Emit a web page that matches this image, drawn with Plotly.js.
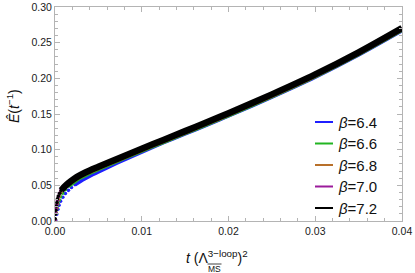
<!DOCTYPE html>
<html>
<head>
<meta charset="utf-8">
<script src="https://cdn.plot.ly/plotly-3.0.1.min.js"></script>
<style>html,body{margin:0;padding:0;background:#fff;}#chart{width:415px;height:273px;}</style>
</head>
<body>
<div id="chart"></div>
<script>
// ---- data ----
const betaLabels = ["6.4", "6.6", "6.8", "7.0", "7.2"];
const seriesColors = ["#1f1fff", "#22b522", "#b8702a", "#9b1b9b", "#000000"];

// early (sparse, small-t) points, drawn as dots
const tEarly64 = [0.00008, 0.0002, 0.00033, 0.00046, 0.00064, 0.0009, 0.0012, 0.00155, 0.0019, 0.0023];
const EEarly64 = [0.001, 0.0095, 0.0165, 0.0222, 0.0278, 0.0333, 0.0385, 0.043, 0.047, 0.051];
const tEarly66 = [0.00005, 0.00015, 0.00025, 0.00035, 0.00048, 0.00065, 0.00088, 0.0012, 0.0016];
const EEarly66 = [0.002, 0.011, 0.018, 0.024, 0.029, 0.034, 0.039, 0.044, 0.049];
const tEarly68 = [0.00004, 0.00012, 0.0002, 0.00028, 0.00038, 0.0005, 0.00066, 0.00088, 0.0012];
const EEarly68 = [0.002, 0.011, 0.018, 0.024, 0.030, 0.035, 0.040, 0.044, 0.049];
const tEarly70 = [0.00003, 0.0001, 0.00016, 0.00022, 0.0003, 0.0004, 0.00052, 0.00068, 0.0009];
const EEarly70 = [0.002, 0.011, 0.017, 0.023, 0.029, 0.034, 0.039, 0.043, 0.047];
const tEarly72 = [0.00001, 0.00003, 0.0001, 0.00016, 0.00022, 0.00028, 0.00038, 0.00055, 0.00072];
const EEarly72 = [0.003, 0.0095, 0.015, 0.021, 0.026, 0.031, 0.035, 0.039, 0.043];

// dense part (continuous band)
const t64 = [0.0023, 0.003, 0.004, 0.005, 0.0075, 0.01, 0.0125, 0.015, 0.0175, 0.02, 0.025, 0.03, 0.035, 0.04];
const E64 = [0.051, 0.0565, 0.0630, 0.0690, 0.0835, 0.0970, 0.1100, 0.1223, 0.1348, 0.1475, 0.1740, 0.2020, 0.2330, 0.2670];
const t66 = [0.0016, 0.0025, 0.0035, 0.005, 0.0075, 0.01, 0.0125, 0.015, 0.0175, 0.02, 0.025, 0.03, 0.035, 0.04];
const E66 = [0.049, 0.0575, 0.0640, 0.0725, 0.0858, 0.0983, 0.1107, 0.1230, 0.1354, 0.1481, 0.1747, 0.2027, 0.2337, 0.2677];
const t68 = [0.0012, 0.0018, 0.0025, 0.0035, 0.005, 0.0075, 0.01, 0.0125, 0.015, 0.0175, 0.02, 0.025, 0.03, 0.035, 0.04];
const E68 = [0.049, 0.0535, 0.0595, 0.0660, 0.0740, 0.0868, 0.0993, 0.1117, 0.1240, 0.1364, 0.1490, 0.1755, 0.2035, 0.2345, 0.2685];
const t70 = [0.0009, 0.0013, 0.0018, 0.0025, 0.0035, 0.005, 0.0075, 0.01, 0.0125, 0.015, 0.0175, 0.02, 0.025, 0.03, 0.035, 0.04];
const E70 = [0.047, 0.0498, 0.0545, 0.0605, 0.0670, 0.0750, 0.0878, 0.1003, 0.1127, 0.1250, 0.1374, 0.1500, 0.1765, 0.2045, 0.2355, 0.2695];
const t72 = [0.00072, 0.001, 0.0013, 0.0018, 0.0025, 0.0035, 0.005, 0.0075, 0.01, 0.0125, 0.015, 0.0175, 0.02, 0.025, 0.03, 0.035, 0.04];
const E72 = [0.043, 0.047, 0.0505, 0.0555, 0.0615, 0.068, 0.076, 0.0888, 0.1013, 0.1137, 0.1260, 0.1384, 0.1510, 0.1775, 0.2055, 0.2365, 0.2705];

const xTickVals = [0, 0.01, 0.02, 0.03, 0.04];
const xTickText = ["0.00", "0.01", "0.02", "0.03", "0.04"];
const yTickVals = [0, 0.05, 0.10, 0.15, 0.20, 0.25, 0.30];
const yTickText = ["0.00", "0.05", "0.10", "0.15", "0.20", "0.25", "0.30"];

// ---- build ----
const W = 415, H = 273;
const M = {l: 55, r: 13, t: 7, b: 52};
const PW = W - M.l - M.r, PH = H - M.t - M.b;
const px = x => (x - M.l) / PW;
const py = y => (H - M.b - y) / PH;

const early = [[tEarly64, EEarly64], [tEarly66, EEarly66], [tEarly68, EEarly68], [tEarly70, EEarly70], [tEarly72, EEarly72]];
const body = [[t64, E64], [t66, E66], [t68, E68], [t70, E70], [t72, E72]];

const traces = [];
for (let i = 0; i < 5; i++) {
  traces.push({
    x: body[i][0], y: body[i][1], type: 'scatter', mode: 'lines',
    line: {color: seriesColors[i], width: i === 4 ? 6.5 : 4, shape: 'spline', smoothing: 0.8},
    name: 'β=' + betaLabels[i], showlegend: false, hoverinfo: 'skip'
  });
  traces.push({
    x: early[i][0], y: early[i][1], type: 'scatter', mode: 'markers',
    marker: {color: seriesColors[i], size: 3.6, symbol: 'circle', line: {width: 0}},
    showlegend: false, hoverinfo: 'skip'
  });
}

const frameColor = '#b4b4b4';
const tickFont = {family: 'Liberation Sans, Arial, sans-serif', size: 10.5, color: '#1a1a1a'};

const annotations = [];
const shapes = [];
const legendRows = [122, 143.5, 165, 186.5, 208];
for (let i = 0; i < 5; i++) {
  shapes.push({type: 'line', xref: 'paper', yref: 'paper',
    x0: px(315), x1: px(333), y0: py(legendRows[i]), y1: py(legendRows[i]),
    line: {color: seriesColors[i], width: 2}});
  annotations.push({xref: 'paper', yref: 'paper', x: px(336), y: py(legendRows[i]),
    xanchor: 'left', yanchor: 'middle', showarrow: false,
    text: '<i>β</i>=' + betaLabels[i],
    font: {family: 'Liberation Sans, Arial, sans-serif', size: 15, color: '#111'}});
}
// y-axis title
annotations.push({xref: 'paper', yref: 'paper', x: px(13), y: py(106), textangle: -90,
  xanchor: 'center', yanchor: 'middle', showarrow: false,
  text: '<i>Ê</i>(<i>t</i><sup>−1</sup>)',
  font: {family: 'Liberation Sans, Arial, sans-serif', size: 14, color: '#111'}});
// x-axis title
annotations.push({xref: 'paper', yref: 'paper', x: px(184), y: py(268), xanchor: 'left', yanchor: 'bottom',
  showarrow: false, text: '<i>t</i> (Λ<sup>3−loop</sup>)<sup>2</sup>',
  font: {family: 'Liberation Sans, Arial, sans-serif', size: 14, color: '#111'}});
annotations.push({xref: 'paper', yref: 'paper', x: px(207), y: py(263), xanchor: 'left', yanchor: 'top',
  showarrow: false, text: 'MS', borderpad: 0,
  font: {family: 'Liberation Sans, Arial, sans-serif', size: 8.5, color: '#111'}});
shapes.push({type: 'line', xref: 'paper', yref: 'paper', x0: px(207.5), x1: px(221.5), y0: py(264), y1: py(264),
  line: {color: '#111', width: 0.8}});

const axisCommon = {
  showline: true, linecolor: frameColor, linewidth: 1, mirror: 'allticks',
  ticks: 'inside', ticklen: 5, tickwidth: 1, tickcolor: frameColor,
  showgrid: false, zeroline: false, tickfont: tickFont
};

const layout = {
  width: W, height: H, margin: M, paper_bgcolor: '#fff', plot_bgcolor: '#fff',
  showlegend: false,
  xaxis: Object.assign({}, axisCommon, {range: [0, 0.04], tickvals: xTickVals, ticktext: xTickText,
    minor: {dtick: 0.002, tick0: 0, ticks: 'inside', ticklen: 3, tickcolor: frameColor, tickwidth: 1, showgrid: false}}),
  yaxis: Object.assign({}, axisCommon, {range: [0, 0.30], tickvals: yTickVals, ticktext: yTickText,
    minor: {dtick: 0.01, tick0: 0, ticks: 'inside', ticklen: 3, tickcolor: frameColor, tickwidth: 1, showgrid: false}}),
  annotations: annotations, shapes: shapes
};

Plotly.newPlot('chart', traces, layout, {staticPlot: true, displayModeBar: false});
</script>
</body>
</html>
